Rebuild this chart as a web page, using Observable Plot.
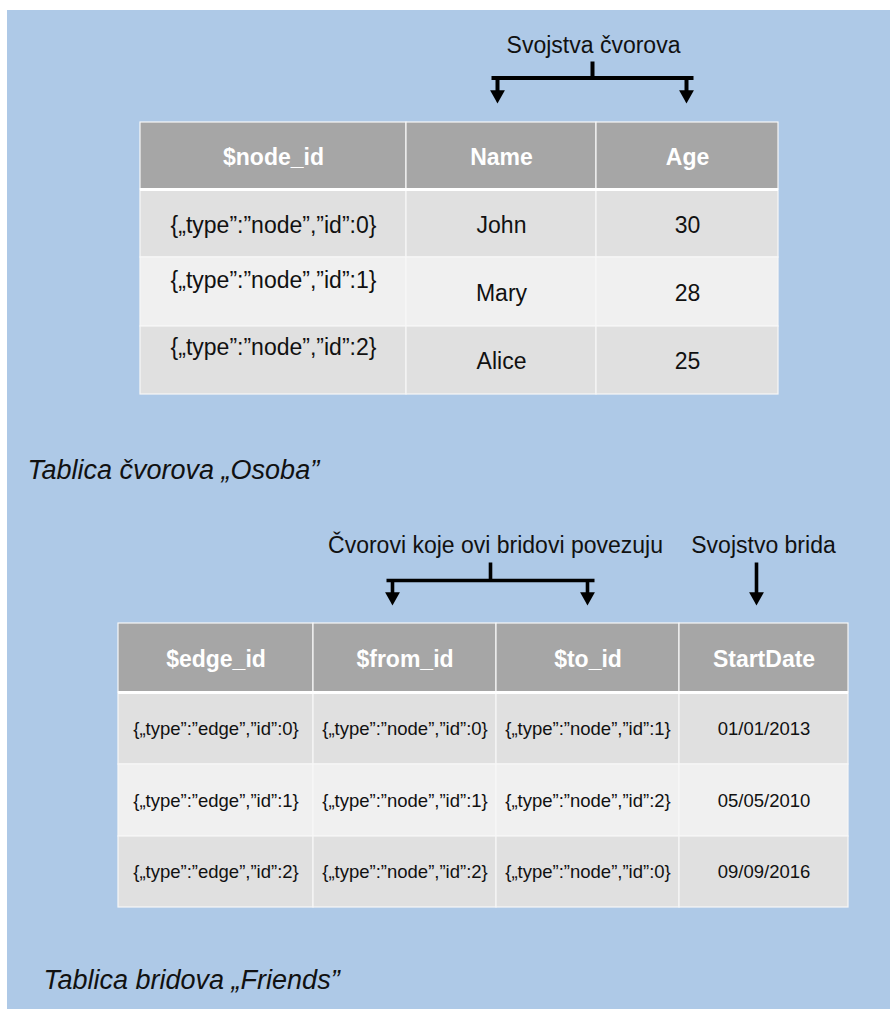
<!DOCTYPE html>
<html>
<head>
<meta charset="utf-8">
<script src="https://cdn.jsdelivr.net/npm/d3@7"></script>
<script src="https://cdn.jsdelivr.net/npm/@observablehq/plot@0.6"></script>
<style>
  html, body { margin: 0; padding: 0; background: #ffffff; }
  #chart { position: absolute; left: 0; top: 0; }
  #chart svg { display: block; }
</style>
</head>
<body>
<div id="chart"></div>
<script>
// ---------------- DATA ----------------
const nodeTitle = "Tablica čvorova „Osoba”";
const nodeAnnotation = "Svojstva čvorova";
const nodeColumns = ["$node_id", "Name", "Age"];
const nodeIds = ["{„type”:”node”,”id”:0}", "{„type”:”node”,”id”:1}", "{„type”:”node”,”id”:2}"];
const nodeNames = ["John", "Mary", "Alice"];
const nodeAges = [30, 28, 25];

const edgeTitle = "Tablica bridova „Friends”";
const edgeAnnotations = ["Čvorovi koje ovi bridovi povezuju", "Svojstvo brida"];
const edgeColumns = ["$edge_id", "$from_id", "$to_id", "StartDate"];
const edgeIds = ["{„type”:”edge”,”id”:0}", "{„type”:”edge”,”id”:1}", "{„type”:”edge”,”id”:2}"];
const edgeFrom = ["{„type”:”node”,”id”:0}", "{„type”:”node”,”id”:1}", "{„type”:”node”,”id”:2}"];
const edgeTo = ["{„type”:”node”,”id”:1}", "{„type”:”node”,”id”:2}", "{„type”:”node”,”id”:0}"];
const edgeStart = ["01/01/2013", "05/05/2010", "09/09/2016"];

// ---------------- LAYOUT (pixels) ----------------
const W = 890, H = 1009;
const FONT = "'Liberation Sans', Arial, Helvetica, sans-serif";
const BG = "#aec9e7";
const layout = {
  background: {x1: 7, y1: 10, x2: 890, y2: 1009},
  node: {
    cols: [140, 406, 596, 778], rows: [122, 189, 257, 326, 394],
    headSize: 23, bodySize: 23,
    dy: [[2, 2, 2], [2, 2, 2], [-11, 2, 2], [-13, 1, 1]],
    title: {x: 27, y: 478}, note: [{x: 593, y: 52}],
    brackets: [{stemX: 592, stemTop: 61, barY: 77.5, barX1: 491, barX2: 693, drops: [497, 686], tip: 103, sw: 4}],
    arrows: []
  },
  edge: {
    cols: [118, 313, 496, 679, 848], rows: [623, 692, 764, 836, 907],
    headSize: 23, bodySize: 18.5,
    dy: [[1.5, 1.5, 1.5, 1.5], [1, 1, 1, 1], [1, 1, 1, 1], [0, 0, 0, 0]],
    title: {x: 43, y: 988}, note: [{x: 495, y: 552}, {x: 763, y: 552}],
    brackets: [{stemX: 490, stemTop: 562, barY: 580, barX1: 386, barX2: 594, drops: [392, 587], tip: 605, sw: 3.6}],
    arrows: [{x: 756, top: 562, tip: 605, sw: 3.6}]
  },
  headFill: "#a6a6a6", darkFill: "#e0e0e0", lightFill: "#f0f0f0",
  grid: "#f7f7f7", titleSize: 27, noteSize: 23
};

// ---------------- BUILD ----------------
function tableCells(columns, rows, L) {
  const cells = [];
  columns.forEach((c, j) => cells.push({row: 0, col: j, text: c}));
  rows.forEach((r, i) => r.forEach((v, j) => cells.push({row: i + 1, col: j, text: String(v)})));
  return cells.map(d => ({
    ...d,
    x1: L.cols[d.col], x2: L.cols[d.col + 1],
    y1: L.rows[d.row], y2: L.rows[d.row + 1],
    cx: (L.cols[d.col] + L.cols[d.col + 1]) / 2,
    cy: (L.rows[d.row] + L.rows[d.row + 1]) / 2 + L.dy[d.row][d.col],
    fill: d.row === 0 ? layout.headFill : (d.row % 2 === 1 ? layout.darkFill : layout.lightFill)
  }));
}

const nodeRows = nodeIds.map((id, i) => [id, nodeNames[i], nodeAges[i]]);
const edgeRows = edgeIds.map((id, i) => [id, edgeFrom[i], edgeTo[i], edgeStart[i]]);
const nodeCells = tableCells(nodeColumns, nodeRows, layout.node);
const edgeCells = tableCells(edgeColumns, edgeRows, layout.edge);

const downTriangle = {
  draw(context) {
    const w = 7.4, h = 13.2;
    context.moveTo(-w, -h / 2);
    context.lineTo(w, -h / 2);
    context.lineTo(0, h / 2);
    context.closePath();
  }
};

function bracketMarks(L) {
  const segs = [], tips = [];
  L.brackets.forEach(b => {
    segs.push({x1: b.stemX, y1: b.stemTop, x2: b.stemX, y2: b.barY, sw: b.sw});
    segs.push({x1: b.barX1, y1: b.barY, x2: b.barX2, y2: b.barY, sw: b.sw});
    b.drops.forEach(x => {
      segs.push({x1: x, y1: b.barY, x2: x, y2: b.tip - 9, sw: b.sw});
      tips.push({x, y: b.tip - 6.6});
    });
  });
  L.arrows.forEach(a => {
    segs.push({x1: a.x, y1: a.top, x2: a.x, y2: a.tip - 9, sw: a.sw});
    tips.push({x: a.x, y: a.tip - 6.6});
  });
  return [
    Plot.link(segs, {x1: "x1", y1: "y1", x2: "x2", y2: "y2", stroke: "#000", strokeWidth: d => d.sw, strokeLinecap: "butt"}),
    Plot.dot(tips, {x: "x", y: "y", symbol: downTriangle, fill: "#000", stroke: "none", r: 5})
  ];
}

function tableMarks(cells, L) {
  return [
    Plot.rect(cells, {x1: "x1", x2: "x2", y1: "y1", y2: "y2", fill: "fill", stroke: layout.grid, strokeWidth: 1.2}),
    Plot.ruleY([L.rows[1]], {x1: L.cols[0], x2: L.cols[L.cols.length - 1], stroke: "#ffffff", strokeWidth: 3}),
    Plot.text(cells.filter(d => d.row === 0), {x: "cx", y: "cy", text: "text", fill: "#ffffff", fontWeight: "bold", fontSize: L.headSize, fontFamily: FONT}),
    Plot.text(cells.filter(d => d.row > 0), {x: "cx", y: "cy", text: "text", fill: "#111111", fontSize: L.bodySize, fontFamily: FONT})
  ];
}

const bg = layout.background;
const chart = Plot.plot({
  width: W, height: H,
  margin: 0,
  style: {background: "#ffffff", fontFamily: FONT},
  x: {domain: [0, W], range: [0, W], axis: null},
  y: {domain: [0, H], range: [0, H], axis: null},
  fill: {type: "identity"},
  marks: [
    Plot.rect([bg], {x1: "x1", x2: "x2", y1: "y1", y2: "y2", fill: BG}),
    ...tableMarks(nodeCells, layout.node),
    ...tableMarks(edgeCells, layout.edge),
    ...bracketMarks(layout.node),
    ...bracketMarks(layout.edge),
    Plot.text([nodeAnnotation], {x: layout.node.note[0].x, y: layout.node.note[0].y, text: d => d, lineAnchor: "bottom", fontSize: layout.noteSize, fill: "#111", fontFamily: FONT}),
    Plot.text(edgeAnnotations, {x: (d, i) => layout.edge.note[i].x, y: (d, i) => layout.edge.note[i].y, text: d => d, lineAnchor: "bottom", fontSize: layout.noteSize, fill: "#111", fontFamily: FONT}),
    Plot.text([nodeTitle, edgeTitle], {
      x: (d, i) => [layout.node.title.x, layout.edge.title.x][i],
      y: (d, i) => [layout.node.title.y, layout.edge.title.y][i],
      text: d => d, textAnchor: "start", lineAnchor: "bottom",
      fontSize: layout.titleSize, fontStyle: "italic", fill: "#111", fontFamily: FONT
    })
  ]
});
document.getElementById("chart").append(chart);
</script>
</body>
</html>
